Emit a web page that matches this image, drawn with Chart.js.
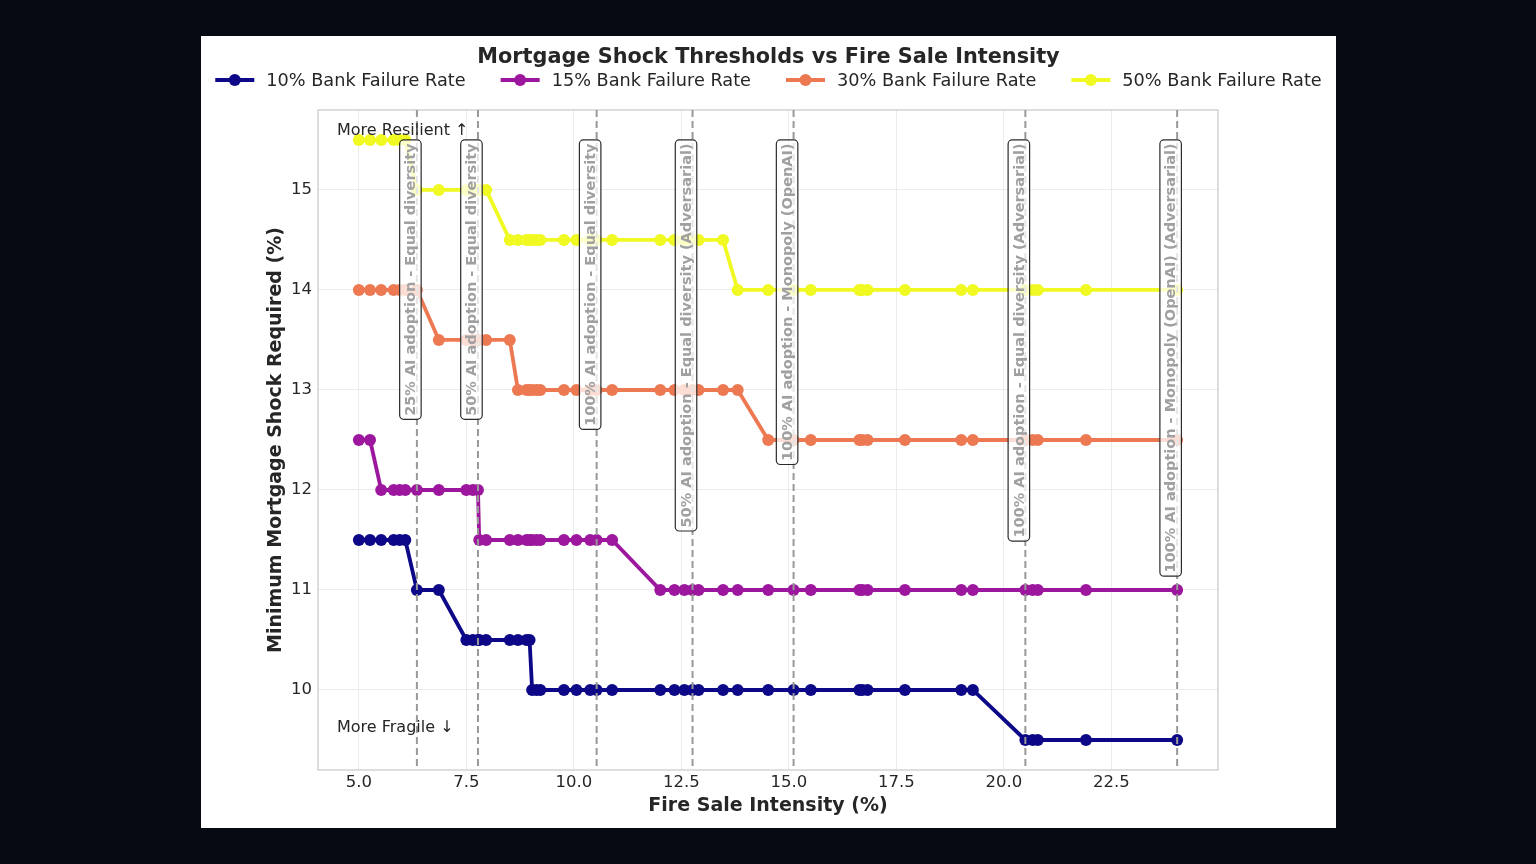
<!DOCTYPE html>
<html lang="en">
<head>
<meta charset="UTF-8">
<title>Mortgage Shock Thresholds vs Fire Sale Intensity</title>
<script src="https://cdn.jsdelivr.net/npm/chart.js"></script>
<style>
    html, body { margin: 0; padding: 0; background: #060a12; }
    #wrap { position: absolute; left: 201px; top: 36px; width: 1135px; height: 792px; background: #fff; }
</style>
</head>
<body>
<div id="wrap"><canvas id="shockChart"></canvas></div>
<script>
// fire sale intensity (%) - shared x values of every series
const fireSale = [5.00, 5.26, 5.52, 5.81, 5.95, 6.08, 6.35, 6.86, 7.50, 7.65,
                  7.77, 7.80, 7.96, 8.51, 8.70, 8.90, 8.97, 9.03, 9.13, 9.22,
                  9.77, 10.06, 10.38, 10.53, 10.89, 12.01, 12.34, 12.57, 12.76, 12.90,
                  13.47, 13.81, 14.52, 15.11, 15.51, 16.64, 16.71, 16.83, 17.70, 19.01,
                  19.28, 20.50, 20.67, 20.79, 21.91, 24.03];

// minimum mortgage shock required (%) per bank failure rate
const fail10 = [11.5, 11.5, 11.5, 11.5, 11.5, 11.5, 11.0, 11.0, 10.5, 10.5,
                10.5, 10.5, 10.5, 10.5, 10.5, 10.5, 10.5, 10.0, 10.0, 10.0,
                10.0, 10.0, 10.0, 10.0, 10.0, 10.0, 10.0, 10.0, 10.0, 10.0,
                10.0, 10.0, 10.0, 10.0, 10.0, 10.0, 10.0, 10.0, 10.0, 10.0,
                10.0, 9.5, 9.5, 9.5, 9.5, 9.5];
const fail15 = [12.5, 12.5, 12.0, 12.0, 12.0, 12.0, 12.0, 12.0, 12.0, 12.0,
                12.0, 11.5, 11.5, 11.5, 11.5, 11.5, 11.5, 11.5, 11.5, 11.5,
                11.5, 11.5, 11.5, 11.5, 11.5, 11.0, 11.0, 11.0, 11.0, 11.0,
                11.0, 11.0, 11.0, 11.0, 11.0, 11.0, 11.0, 11.0, 11.0, 11.0,
                11.0, 11.0, 11.0, 11.0, 11.0, 11.0];
const fail30 = [14.0, 14.0, 14.0, 14.0, 14.0, 14.0, 14.0, 13.5, 13.5, 13.5,
                13.5, 13.5, 13.5, 13.5, 13.0, 13.0, 13.0, 13.0, 13.0, 13.0,
                13.0, 13.0, 13.0, 13.0, 13.0, 13.0, 13.0, 13.0, 13.0, 13.0,
                13.0, 13.0, 12.5, 12.5, 12.5, 12.5, 12.5, 12.5, 12.5, 12.5,
                12.5, 12.5, 12.5, 12.5, 12.5, 12.5];
const fail50 = [15.5, 15.5, 15.5, 15.5, 15.5, 15.5, 15.0, 15.0, 15.0, 15.0,
                15.0, 15.0, 15.0, 14.5, 14.5, 14.5, 14.5, 14.5, 14.5, 14.5,
                14.5, 14.5, 14.5, 14.5, 14.5, 14.5, 14.5, 14.5, 14.5, 14.5,
                14.5, 14.0, 14.0, 14.0, 14.0, 14.0, 14.0, 14.0, 14.0, 14.0,
                14.0, 14.0, 14.0, 14.0, 14.0, 14.0];

const seriesNames = ['10% Bank Failure Rate', '15% Bank Failure Rate', '30% Bank Failure Rate', '50% Bank Failure Rate'];
const seriesColors = ['#0d0887', '#9c179e', '#ed7953', '#f0f921'];

// AI adoption scenarios marked on the x axis
const aiX = [6.35, 7.77, 10.53, 12.76, 15.11, 20.50, 24.03];
const aiLabels = ['25% AI adoption - Equal diversity',
                  '50% AI adoption - Equal diversity',
                  '100% AI adoption - Equal diversity',
                  '50% AI adoption - Equal diversity (Adversarial)',
                  '100% AI adoption - Monopoly (OpenAI)',
                  '100% AI adoption - Equal diversity (Adversarial)',
                  '100% AI adoption - Monopoly (OpenAI) (Adversarial)'];

const xTicks = [5.0, 7.5, 10.0, 12.5, 15.0, 17.5, 20.0, 22.5];
const yTicks = [10, 11, 12, 13, 14, 15];

const FONT = '"DejaVu Sans", sans-serif';
const TEXT = '#262626';

const allSeries = [fail10, fail15, fail30, fail50];
const datasets = allSeries.map((vals, i) => ({
    label: seriesNames[i],
    data: fireSale.map((x, j) => ({ x: x, y: vals[j] })),
    borderColor: seriesColors[i],
    backgroundColor: seriesColors[i],
    borderWidth: 3.8,
    pointRadius: 6,
    pointHoverRadius: 6.5,
    pointBorderWidth: 0,
    tension: 0
}));

const overlay = {
    id: 'overlay',
    beforeDatasetsDraw(chart) {
        const { ctx, chartArea: a } = chart;
        ctx.save();
        ctx.strokeStyle = '#cccccc';
        ctx.lineWidth = 1.3;
        ctx.strokeRect(a.left, a.top, a.right - a.left, a.bottom - a.top);
        ctx.restore();
    },
    afterDatasetsDraw(chart) {
        const { ctx, chartArea: a } = chart;
        const xs = chart.scales.x;
        ctx.save();
        // dashed scenario lines
        ctx.strokeStyle = '#999999';
        ctx.lineWidth = 2;
        ctx.setLineDash([7, 4]);
        aiX.forEach(v => {
            const px = xs.getPixelForValue(v);
            ctx.beginPath();
            ctx.moveTo(px, a.top);
            ctx.lineTo(px, a.bottom);
            ctx.stroke();
        });
        ctx.setLineDash([]);

        // rotated labels in boxes
        const fs = 14.5, pad = 3.5;
        ctx.font = 'bold ' + fs + 'px ' + FONT;
        aiX.forEach((v, i) => {
            const cx = xs.getPixelForValue(v) - 6.5;
            const w = ctx.measureText(aiLabels[i]).width;
            const top = a.top + 30;
            const h = w + pad * 2;
            const bw = fs + pad * 2;
            ctx.beginPath();
            ctx.roundRect(cx - bw / 2, top, bw, h, 4);
            ctx.fillStyle = 'rgba(255,255,255,0.75)';
            ctx.fill();
            ctx.strokeStyle = '#2b2b2b';
            ctx.lineWidth = 1.2;
            ctx.stroke();
            ctx.save();
            ctx.translate(cx, top + h / 2);
            ctx.rotate(-Math.PI / 2);
            ctx.fillStyle = '#a0a0a0';
            ctx.textAlign = 'center';
            ctx.textBaseline = 'middle';
            ctx.fillText(aiLabels[i], 0, 1);
            ctx.restore();
        });

        // direction notes
        ctx.font = '16px ' + FONT;
        ctx.fillStyle = TEXT;
        ctx.textAlign = 'left';
        ctx.textBaseline = 'middle';
        ctx.fillText('More Resilient \u2191', a.left + 19, a.top + 21);
        ctx.fillText('More Fragile \u2193', a.left + 19, a.bottom - 42);
        ctx.restore();
    },
    afterDraw(chart) {
        // legend: line + marker, then label
        const { ctx } = chart;
        const ds = chart.data.datasets;
        const lineLen = 39, gap = 12, spacing = 35, y = 44;
        ctx.save();
        ctx.font = '17.7px ' + FONT;
        const widths = ds.map(d => lineLen + gap + ctx.measureText(d.label).width);
        const total = widths.reduce((s, w) => s + w, 0) + spacing * (ds.length - 1);
        let x = (chart.width - total) / 2;
        ds.forEach((d, i) => {
            ctx.strokeStyle = d.borderColor;
            ctx.lineWidth = 3.8;
            ctx.beginPath();
            ctx.moveTo(x, y);
            ctx.lineTo(x + lineLen, y);
            ctx.stroke();
            ctx.fillStyle = d.borderColor;
            ctx.beginPath();
            ctx.arc(x + lineLen / 2, y, 6, 0, Math.PI * 2);
            ctx.fill();
            ctx.fillStyle = TEXT;
            ctx.textAlign = 'left';
            ctx.textBaseline = 'middle';
            ctx.fillText(d.label, x + lineLen + gap, y + 1);
            x += widths[i] + spacing;
        });
        ctx.restore();
    }
};

new Chart(document.getElementById('shockChart'), {
    type: 'line',
    data: { datasets: datasets },
    options: {
        responsive: true,
        maintainAspectRatio: false,
        animation: false,
        layout: { padding: 0 },
        plugins: {
            legend: { display: false },
            tooltip: { enabled: true },
            title: {
                display: true,
                text: 'Mortgage Shock Thresholds vs Fire Sale Intensity',
                color: TEXT,
                font: { family: FONT, size: 20.8, weight: 'bold' },
                padding: { top: 9.4, bottom: 39.6 }
            }
        },
        scales: {
            x: {
                type: 'linear',
                min: 4.05,
                max: 24.98,
                afterBuildTicks: s => { s.ticks = xTicks.map(v => ({ value: v })); },
                afterFit: s => { s.height = 58; },
                grid: { color: '#ebebeb', lineWidth: 1, drawTicks: false },
                border: { display: false },
                ticks: {
                    color: TEXT,
                    font: { family: FONT, size: 16.5 },
                    padding: 3,
                    maxRotation: 0,
                    callback: v => Number(v).toFixed(1)
                },
                title: {
                    display: true,
                    text: 'Fire Sale Intensity (%)',
                    color: TEXT,
                    font: { family: FONT, size: 19, weight: 'bold' },
                    padding: { top: 0, bottom: 10.6 }
                }
            },
            y: {
                type: 'linear',
                min: 9.2,
                max: 15.8,
                afterBuildTicks: s => { s.ticks = yTicks.map(v => ({ value: v })); },
                afterFit: s => { s.width = 117; },
                grid: { color: '#ebebeb', lineWidth: 1, drawTicks: false },
                border: { display: false },
                ticks: {
                    color: TEXT,
                    font: { family: FONT, size: 16.5 },
                    padding: 6,
                    callback: v => String(v)
                },
                title: {
                    display: true,
                    text: 'Minimum Mortgage Shock Required (%)',
                    color: TEXT,
                    font: { family: FONT, size: 19, weight: 'bold' },
                    padding: { top: 63.6, bottom: 0 }
                }
            },
            yRight: {
                type: 'linear',
                position: 'right',
                display: true,
                afterFit: s => { s.width = 118; },
                grid: { display: false },
                border: { display: false },
                ticks: { display: false }
            }
        }
    },
    plugins: [overlay]
});
</script>
</body>
</html>
